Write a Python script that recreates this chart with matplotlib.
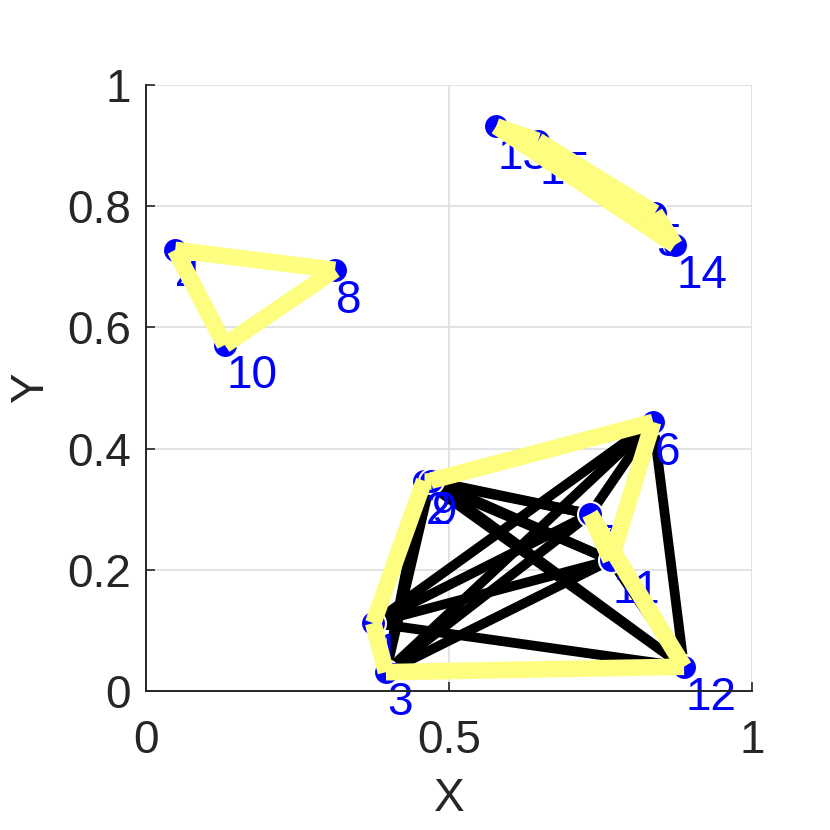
import itertools
import matplotlib
matplotlib.use("Agg")
import matplotlib.pyplot as plt

plt.rcParams['font.family'] = ['Liberation Sans', 'DejaVu Sans']

# node positions (node i -> index i-1)
node_x = [0.375, 0.459, 0.396, 0.048, 0.840, 0.837, 0.733, 0.312,
          0.470, 0.130, 0.767, 0.888, 0.578, 0.873, 0.647]
node_y = [0.112, 0.347, 0.031, 0.728, 0.789, 0.444, 0.292, 0.695,
          0.347, 0.571, 0.216, 0.040, 0.932, 0.736, 0.908]
node_labels = [str(i) for i in range(1, 16)]

# groups of nodes that are fully connected (black edges)
clusters = [[1, 2, 3, 6, 7, 9, 11, 12], [4, 8, 10], [5, 13, 14, 15]]
# highlighted tour (yellow)
tour_edges = [(4, 8), (8, 10), (10, 4),
              (13, 15), (15, 5), (5, 14), (14, 13),
              (1, 2), (2, 9), (9, 6), (6, 11), (11, 7), (7, 12), (12, 3), (3, 1)]

x_ticks = [0, 0.5, 1]
x_ticklabels = ["0", "0.5", "1"]
y_ticks = [0, 0.2, 0.4, 0.6, 0.8, 1]
y_ticklabels = ["0", "0.2", "0.4", "0.6", "0.8", "1"]

fig = plt.figure(figsize=(8.3, 8.3), dpi=100)
ax = fig.add_axes([0.1759, 0.1675, 0.730, 0.730])

for cl in clusters:
    for a, b in itertools.combinations(cl, 2):
        ax.plot([node_x[a-1], node_x[b-1]], [node_y[a-1], node_y[b-1]],
                color="black", lw=7, solid_capstyle="butt", zorder=2)

ax.plot(node_x, node_y, "o", ms=18, mfc="#0000ff", mec="white", mew=1.5, ls="none", zorder=3)
for x, y, lab in zip(node_x, node_y, node_labels):
    ax.annotate(lab, (x, y), xytext=(1, -31), textcoords="offset points",
                color="#0000ff", fontsize=33, ha="left", va="baseline", zorder=4)

for a, b in tour_edges:
    ax.plot([node_x[a-1], node_x[b-1]], [node_y[a-1], node_y[b-1]],
            color="#fdfd80", lw=12, solid_capstyle="butt", zorder=5)

ax.set_xlim(0, 1); ax.set_ylim(0, 1)
ax.set_xticks(x_ticks); ax.set_xticklabels(x_ticklabels)
ax.set_yticks(y_ticks); ax.set_yticklabels(y_ticklabels)
ax.grid(color="#e0e0e0", lw=1.3, zorder=0)
ax.set_axisbelow(True)
for s in ("top", "right"): ax.spines[s].set_visible(False)
for s in ("left", "bottom"):
    ax.spines[s].set_color("#262626"); ax.spines[s].set_linewidth(1.4); ax.spines[s].set_zorder(6)
ax.tick_params(direction="in", length=6.5, width=1.2, colors="#262626", labelsize=33)
ax.tick_params(axis="x", pad=20)
ax.tick_params(axis="y", pad=11)
ax.set_xlabel("X", fontsize=33, color="#262626", labelpad=10)
ax.set_ylabel("Y", fontsize=33, color="#262626", labelpad=10)

fig.savefig("out.png", dpi=100)
